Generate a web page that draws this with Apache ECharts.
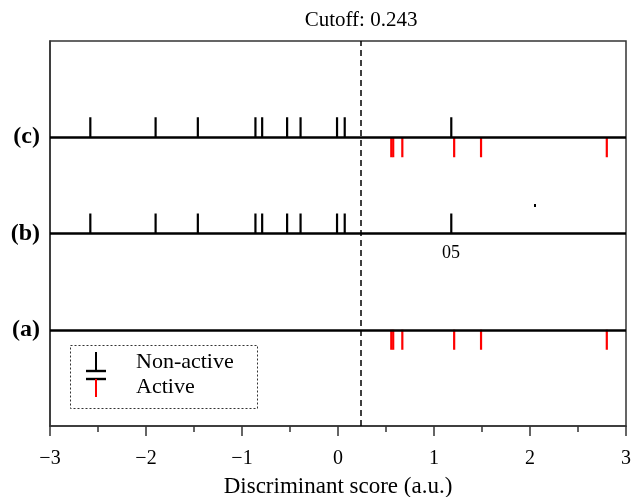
<!DOCTYPE html>
<html>
<head>
<meta charset="utf-8">
<script src="https://cdn.jsdelivr.net/npm/echarts@6/dist/echarts.min.js"></script>
<style>
  html, body { margin: 0; padding: 0; background: #fff; }
  #chart { width: 634px; height: 497px; }
</style>
</head>
<body>
<div id="chart"></div>
<script>
// Row labels, bottom to top (y = 1, 2, 3)
const rowLabels = ['(a)', '(b)', '(c)'];
// Discriminant scores
const nonActiveScores = [-2.58, -1.90, -1.46, -0.86, -0.79, -0.53, -0.39, -0.01, 0.07, 1.18];
const activeScores = [0.555, 0.575, 0.67, 1.21, 1.49, 2.80];
// Which rows show which group
const nonActiveRows = [2, 3];
const activeRows = [1, 3];
const cutoff = 0.243;
const xTicks = [-3, -2, -1, 0, 1, 2, 3];

const FONT = 'Liberation Serif';

const chart = echarts.init(document.getElementById('chart'));

const nonActiveData = [];
nonActiveRows.forEach(r => nonActiveScores.forEach(s => nonActiveData.push([s, r])));
const activeData = [];
activeRows.forEach(r => activeScores.forEach(s => activeData.push([s, r])));

const option = {
    backgroundColor: '#fff',
    animation: false,
    grid: {
        left: 50, right: 8, top: 41, bottom: 71,
        outerBoundsMode: 'none',
        containLabel: false,
        show: true,
        borderColor: '#333',
        borderWidth: 1.5
    },
    xAxis: {
        type: 'value',
        min: xTicks[0],
        max: xTicks[xTicks.length - 1],
        interval: 1,
        name: 'Discriminant score (a.u.)',
        nameLocation: 'middle',
        nameGap: 49,
        nameTextStyle: { fontFamily: FONT, fontSize: 23, color: '#000' },
        axisLine: { onZero: false, lineStyle: { color: '#333', width: 1.5 } },
        axisTick: { show: true, length: 10, lineStyle: { color: '#333', width: 1.5 } },
        minorTick: { show: true, splitNumber: 2, length: 6, lineStyle: { color: '#333', width: 1.5 } },
        axisLabel: {
            fontFamily: FONT, fontSize: 20, color: '#000', margin: 23,
            formatter: v => v < 0 ? '\u2212' + Math.abs(v) : String(v)
        },
        splitLine: { show: false }
    },
    yAxis: {
        type: 'value',
        min: 0,
        max: 4,
        interval: 1,
        axisLine: { show: true, onZero: false, lineStyle: { color: '#333', width: 1.5 } },
        axisTick: { show: false },
        splitLine: { show: false },
        axisLabel: {
            fontFamily: FONT, fontSize: 24, fontWeight: 'bold', color: '#000', margin: 10,
            formatter: v => rowLabels[v - 1] || ''
        }
    },
    series: [
        {
            name: 'Non-active',
            type: 'scatter',
            data: nonActiveData,
            symbol: 'rect',
            symbolSize: [2.2, 20],
            symbolOffset: [0, -10],
            itemStyle: { color: '#000', opacity: 1 },
            silent: true,
            markLine: {
                silent: true,
                symbol: ['none', 'none'],
                label: { show: false },
                lineStyle: { type: 'solid', color: '#000', width: 2.6 },
                data: [{ yAxis: 1 }, { yAxis: 2 }, { yAxis: 3 }]
            }
        },
        {
            name: 'Active',
            type: 'scatter',
            data: activeData,
            symbol: 'rect',
            symbolSize: [2.2, 20],
            symbolOffset: [0, 10],
            itemStyle: { color: '#ff0000', opacity: 1 },
            silent: true,
            markLine: {
                silent: true,
                symbol: ['none', 'none'],
                lineStyle: { type: [6, 4], color: '#000', width: 1.5 },
                label: {
                    show: true,
                    position: 'end',
                    distance: 10,
                    formatter: 'Cutoff: ' + cutoff,
                    fontFamily: FONT,
                    fontSize: 21,
                    color: '#000'
                },
                data: [{ xAxis: cutoff }]
            }
        }
    ],
    graphic: [
        // custom legend
        {
            type: 'rect', left: 68, top: 343,
            shape: { width: 187, height: 63 },
            style: { fill: 'none', stroke: '#333', lineWidth: 1, lineDash: [2, 2] }
        },
        { type: 'line', shape: { x1: 96, y1: 352, x2: 96, y2: 371 }, style: { stroke: '#000', lineWidth: 2 } },
        { type: 'line', shape: { x1: 86, y1: 371, x2: 106, y2: 371 }, style: { stroke: '#000', lineWidth: 2.4 } },
        { type: 'line', shape: { x1: 86, y1: 379, x2: 106, y2: 379 }, style: { stroke: '#000', lineWidth: 2.4 } },
        { type: 'line', shape: { x1: 96, y1: 379, x2: 96, y2: 397 }, style: { stroke: '#ff0000', lineWidth: 2 } },
        {
            type: 'text', left: 136, top: 351,
            style: { text: 'Non-active', fontFamily: FONT, fontSize: 22, fill: '#000' }
        },
        {
            type: 'text', left: 136, top: 376,
            style: { text: 'Active', fontFamily: FONT, fontSize: 22, fill: '#000' }
        },
        // stray marks in the source picture
        {
            type: 'text', left: 442, top: 244,
            style: { text: '05', fontFamily: FONT, fontSize: 18, fill: '#000' }
        },
        { type: 'rect', left: 534, top: 204, shape: { width: 2, height: 3 }, style: { fill: '#000' } }
    ]
};

chart.setOption(option);
window.addEventListener('resize', () => chart.resize());
</script>
</body>
</html>
